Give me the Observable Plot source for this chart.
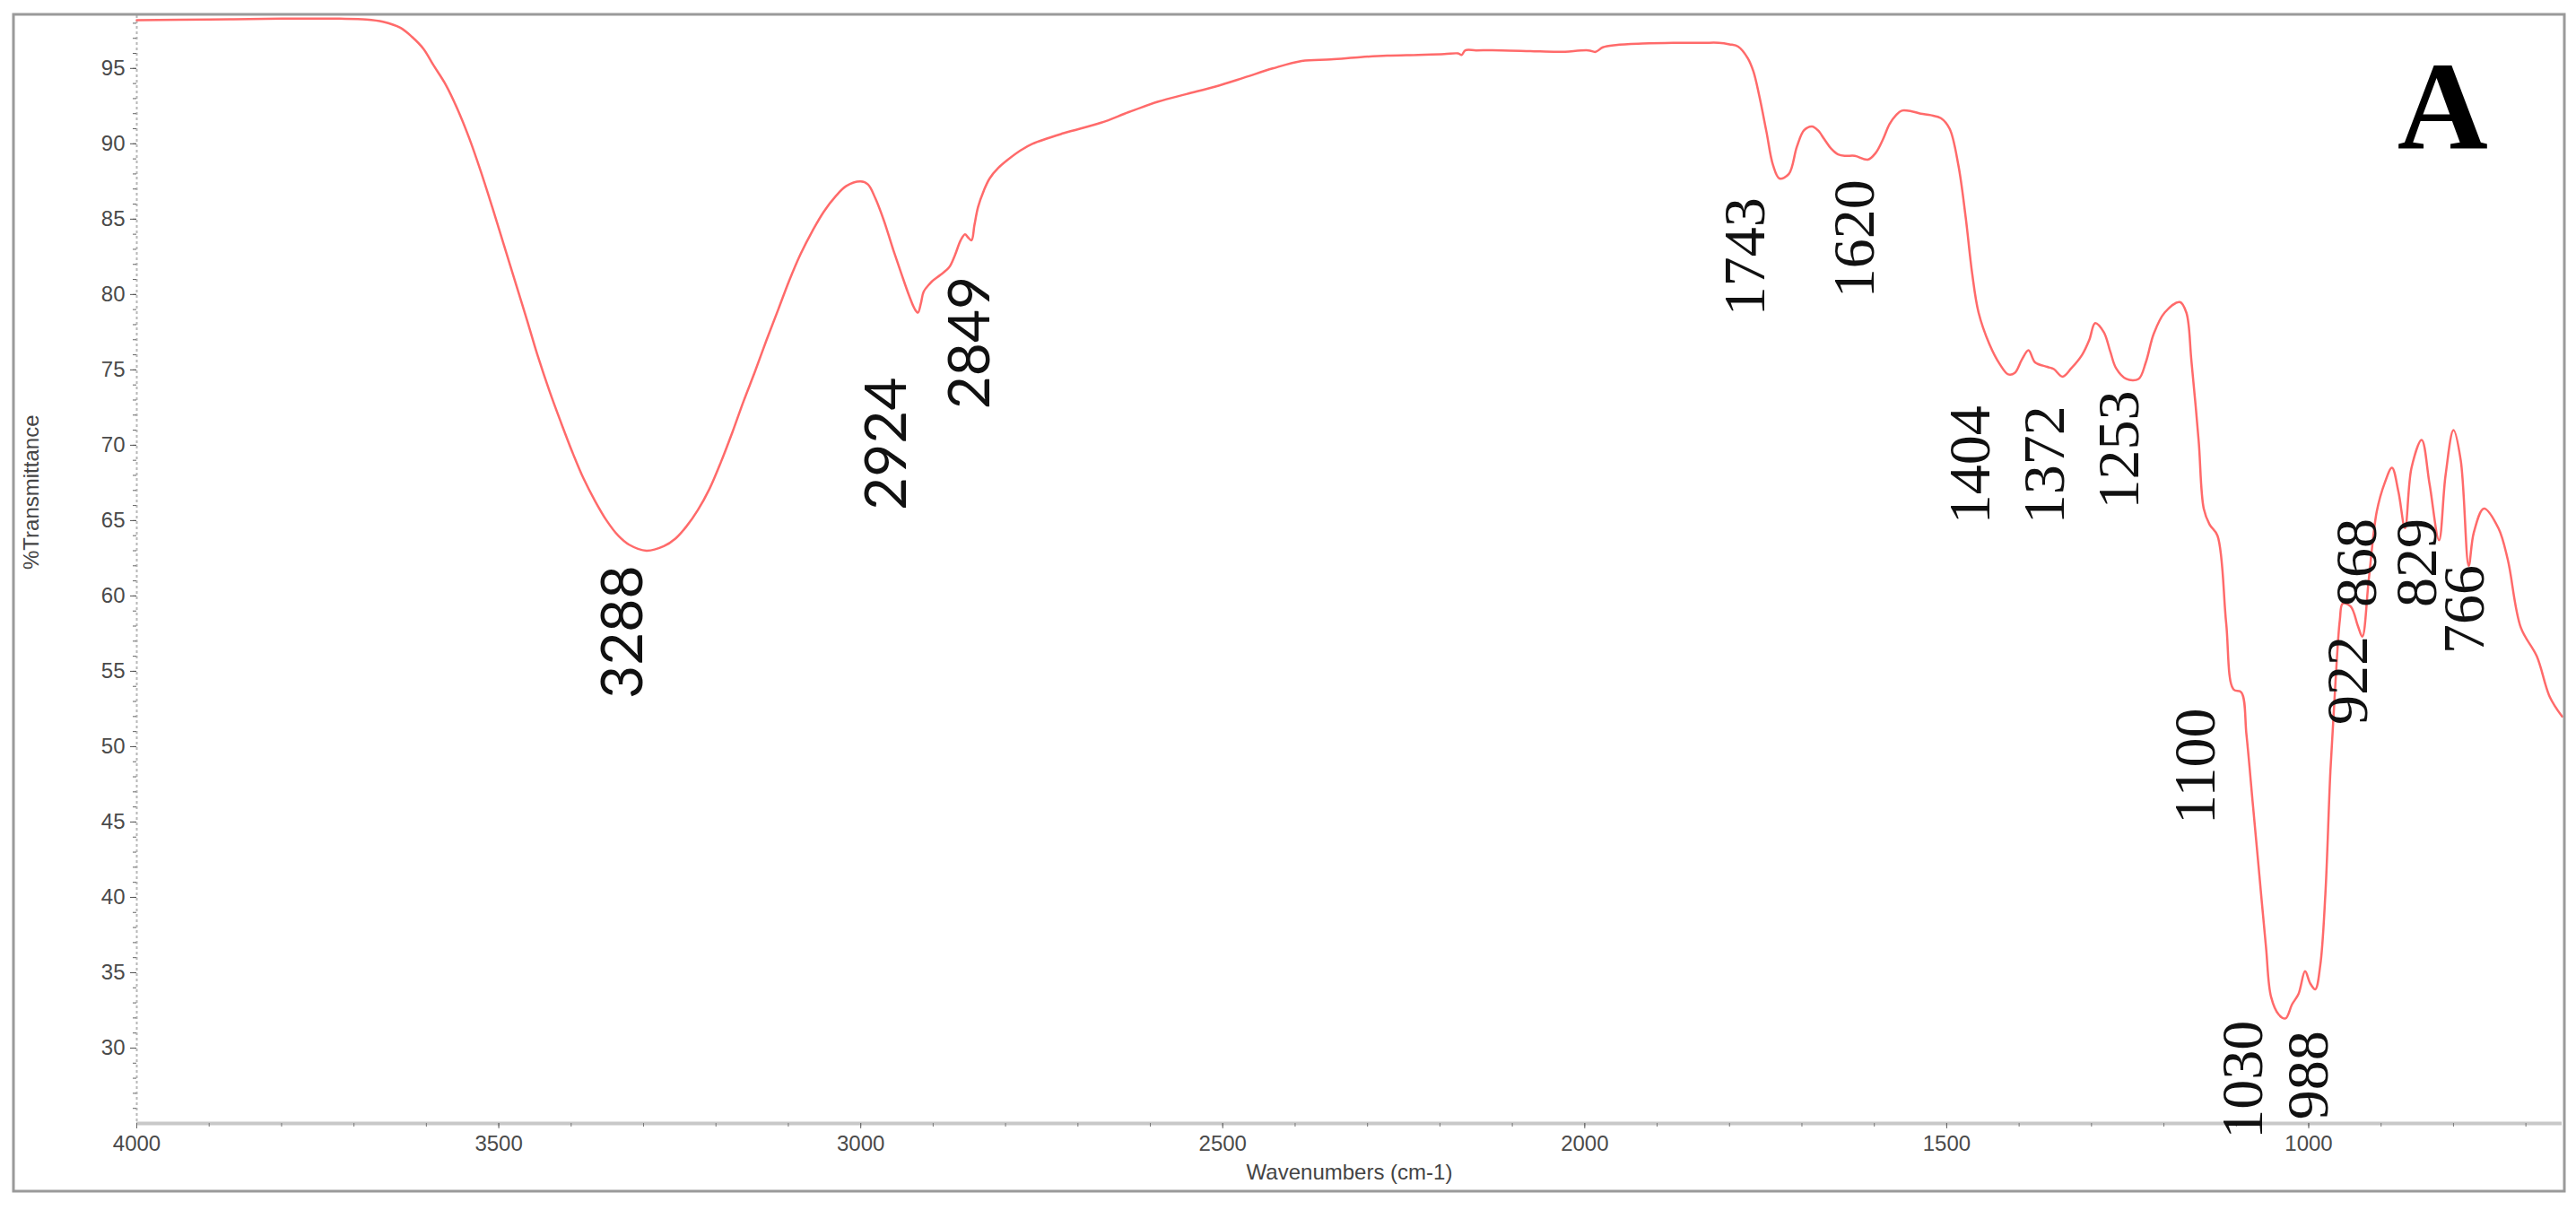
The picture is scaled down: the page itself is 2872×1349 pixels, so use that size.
<!DOCTYPE html>
<html>
<head>
<meta charset="utf-8">
<script src="https://cdn.jsdelivr.net/npm/d3@7"></script>
<script src="https://cdn.jsdelivr.net/npm/@observablehq/plot@0.6"></script>
<style>
  html, body { margin: 0; padding: 0; background: #fff; overflow: hidden; }
  #chart { width: 2872px; height: 1349px; }
</style>
</head>
<body>
<div id="chart"></div>
<script>
// ---- Data ----
const wavenumber = [4000,3900,3800,3720,3683,3660,3636,3620,3604,3590,3573,3557,3541,3525,3509,3493,3477,3461,3446,3430,3414,3398,3383,3367,3351,3335,3320,3296,3272,3256,3241,3225,3209,3193,3177,3162,3146,3130,3114,3099,3083,3067,3051,3035,3020,3000,2990,2980,2968,2956,2944,2933,2925,2921,2917,2913,2905,2901,2890,2878,2870,2862,2856,2852,2847,2843,2838,2830,2822,2810,2798,2778,2763,2720,2668,2630,2589,2550,2510,2470,2431,2391,2351,2310,2273,2230,2194,2175,2170,2165,2150,2115,2075,2035,1995,1985,1975,1957,1920,1878,1836,1815,1800,1788,1775,1767,1759,1749,1740,1731,1718,1707,1697,1686,1678,1669,1660,1650,1640,1627,1609,1598,1588,1579,1570,1562,1548,1536,1522,1508,1496,1484,1474,1465,1456,1441,1427,1415,1406,1396,1387,1378,1361,1352,1340,1328,1313,1303,1295,1283,1274,1266,1252,1235,1225,1214,1199,1178,1169,1162,1152,1145,1137,1126,1114,1104,1093,1086,1077,1068,1059,1052,1041,1032,1023,1014,1005,998,991,984,977,970,963,957,953,942,932,926,917,906,895,885,876,867,858,844,833,820,811,800,790,779,772,758,738,725,707,685,667,650];
const transmittance = [98.2,98.25,98.3,98.3,98.25,98.1,97.7,97.1,96.3,95.2,93.9,92.3,90.4,88.2,85.8,83.3,80.8,78.3,75.9,73.6,71.5,69.5,67.8,66.3,65.0,64.0,63.4,63.0,63.3,63.8,64.6,65.7,67.1,68.9,70.9,72.9,74.9,77.0,79.0,80.9,82.7,84.2,85.5,86.5,87.2,87.5,87.3,86.4,84.9,83.1,81.4,79.9,79.0,78.8,79.4,80.2,80.7,80.9,81.3,81.8,82.6,83.6,84.0,83.8,83.6,84.6,85.8,86.9,87.7,88.4,88.9,89.6,90.0,90.7,91.4,92.1,92.8,93.3,93.8,94.4,95.0,95.5,95.6,95.75,95.85,95.9,95.95,96.0,95.9,96.2,96.2,96.2,96.15,96.1,96.2,96.1,96.4,96.55,96.65,96.7,96.7,96.7,96.6,96.45,95.7,94.8,93.2,90.8,88.6,87.7,88.0,89.8,90.9,91.15,90.9,90.3,89.7,89.3,89.2,89.2,88.95,89.4,90.3,91.3,91.9,92.2,92.15,92.0,91.9,91.7,91.0,88.6,85.2,81.45,78.8,76.7,75.4,74.7,74.8,75.7,76.3,75.5,75.2,75.05,74.55,75.1,76.0,77.0,78.1,77.5,76.2,75.1,74.4,74.4,75.5,77.4,78.8,79.5,78.8,75.6,70.3,65.8,64.75,64.0,58.2,53.8,53.6,50.8,46.1,41.4,36.7,33.4,32.2,31.97,32.9,33.6,35.1,34.3,33.9,35.5,40.2,48.4,54.3,58.4,59.5,59.3,58.0,57.3,61.1,65.6,67.5,68.5,66.9,64.5,68.5,70.35,67.4,63.7,68.0,71.0,69.0,62.0,64.2,65.8,64.5,62.4,57.9,56.0,53.3,52.0];

// Peak annotations (text, anchor wavenumber, anchor %T, font family group)
const peakText  = ["3288","2924","2849","1743","1620","1404","1372","1253","1100","1030","988","922","868","829","766"];
const peakLabelX = [3327,2963,2848,1778,1627,1467,1364,1261,1156,1090,1000,946,933,850,785];
const peakLabelY = [57.6,70.1,76.8,82.5,83.7,68.7,68.7,69.7,48.7,27.9,28.2,54.4,62.2,62.2,59.1];
const peakFont  = ["sans","sans","sans","serif","serif","serif","serif","serif","serif","serif","serif","serif","serif","serif","serif"];

const panelLetter = ["A"];
const panelX = [815];
const panelY = [92.3];

// Axis ticks
const xTicks = [4000,3500,3000,2500,2000,1500,1000];
const xMinorTicks = d3.range(700, 4000, 100);
const yTicks = [30,35,40,45,50,55,60,65,70,75,80,85,90,95];
const yMinorTicks = d3.range(26, 99, 1);
const xTitle = "Wavenumbers (cm-1)";
const yTitle = "%Transmittance";

const spectrum = wavenumber.map((w, i) => ({w, t: transmittance[i]}));
const peaks = peakText.map((s, i) => ({s, x: peakLabelX[i], y: peakLabelY[i], f: peakFont[i]}));

const plot = Plot.plot({
  width: 2872,
  height: 1349,
  marginLeft: 152,
  marginRight: 16,
  marginTop: 17,
  marginBottom: 97,
  style: {fontFamily: "'Liberation Sans', Arial, sans-serif", background: "#fff", overflow: "visible"},
  x: {domain: [4000, 650]},
  y: {domain: [25, 98.5]},
  marks: [
    Plot.ruleY([25], {stroke: "#c8c8c8", strokeWidth: 4}),
    Plot.ruleX([4000], {stroke: "#b8b8b8", strokeWidth: 2, strokeDasharray: "3,3"}),
    Plot.axisX(xMinorTicks, {anchor: "bottom", tickSize: 4, tickFormat: () => "", stroke: "#777", label: null}),
    Plot.axisX(xTicks, {anchor: "bottom", tickSize: 6, tickPadding: 7, tickFormat: d => String(d), stroke: "#666", fill: "#4a4a4a", fontSize: 24, label: null}),
    Plot.axisY(yMinorTicks, {anchor: "left", tickSize: 4, tickFormat: () => "", stroke: "#666", label: null}),
    Plot.axisY(yTicks, {anchor: "left", tickSize: 7, tickPadding: 6, tickFormat: d => String(d), stroke: "#555", fill: "#4a4a4a", fontSize: 24, label: null}),
    Plot.text([xTitle], {frameAnchor: "bottom", dy: 55, fontSize: 24, fill: "#444", lineAnchor: "middle"}),
    Plot.text([yTitle], {frameAnchor: "left", dx: -117, rotate: -90, fontSize: 24, fill: "#444", lineAnchor: "middle"}),
    Plot.line(spectrum, {x: "w", y: "t", stroke: "#ff6a6a", strokeWidth: 2.5, curve: "catmull-rom"}),
    Plot.text(peaks.filter(d => d.f === "sans"), {x: "x", y: "y", text: "s", rotate: -90, textAnchor: "middle", lineAnchor: "middle", fontFamily: "Lato, 'Open Sans', sans-serif", fontSize: 64, fill: "#111"}),
    Plot.text(peaks.filter(d => d.f === "serif"), {x: "x", y: "y", text: "s", rotate: -90, textAnchor: "middle", lineAnchor: "middle", fontFamily: "'Liberation Serif', 'Times New Roman', serif", fontSize: 66, fill: "#111"}),
    Plot.text(panelLetter, {x: panelX, y: panelY, text: d => d, fontFamily: "'Liberation Serif', 'Times New Roman', serif", fontWeight: "bold", fontSize: 140, fill: "#000", lineAnchor: "middle"})
  ]
});

// Outer figure border
d3.select(plot).append("rect")
  .attr("x", 15).attr("y", 16).attr("width", 2844).attr("height", 1312)
  .attr("fill", "none").attr("stroke", "#9a9a9a").attr("stroke-width", 3);

document.getElementById("chart").appendChild(plot);
</script>
</body>
</html>
